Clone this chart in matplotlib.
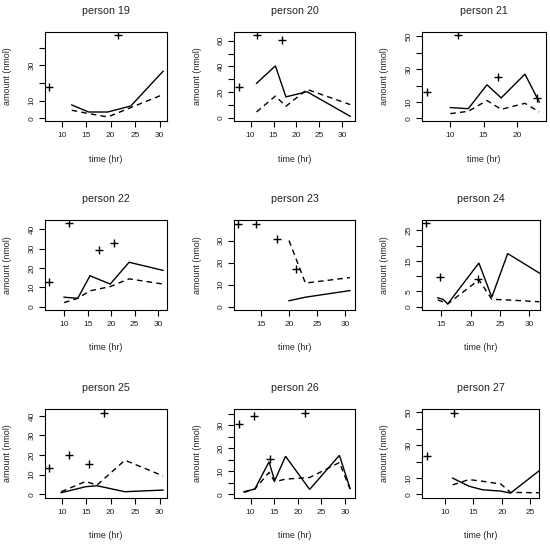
import matplotlib
matplotlib.use("Agg")
import matplotlib.pyplot as plt

plt.rcParams['font.family'] = ['Liberation Sans', 'DejaVu Sans']

persons = ["person 19", "person 20", "person 21", "person 22", "person 23",
           "person 24", "person 25", "person 26", "person 27"]

# observed points (+)
plus_t = [
    [7.5, 21.5],
    [7.4, 11.3, 16.9],
    [6.67, 11.18, 17.2, 22.9],
    [6.88, 11.13, 17.45, 20.5],
    [11.0, 14.2, 17.8, 21.2],
    [12.45, 14.83, 21.2],
    [7.47, 11.4, 15.5, 18.7],
    [7.47, 10.8, 14.2, 21.5],
    [6.85, 11.5],
]
plus_v = [
    [17.9, 47.4],
    [24.3, 64.5, 60.8],
    [16.2, 51.0, 25.2, 12.3],
    [13.0, 43.1, 29.2, 33.0],
    [37.7, 37.7, 30.9, 17.2],
    [27.3, 9.6, 9.0],
    [13.3, 20.1, 15.5, 41.5],
    [30.6, 34.1, 15.5, 35.3],
    [23.4, 49.6],
]
# line series
line_t = [
    [12.05, 15.5, 19.4, 24.1, 30.7],
    [11.3, 15.4, 17.7, 22.3, 31.7],
    [10.1, 12.75, 15.5, 17.6, 21.1, 23.2],
    [10.0, 12.9, 15.5, 19.8, 23.8, 31.0],
    [20.0, 22.9, 30.8],
    [14.4, 15.3, 16.1, 21.4, 23.6, 26.3, 31.7],
    [9.9, 14.9, 17.2, 22.9, 30.7],
    [8.6, 10.9, 13.9, 15.1, 17.4, 22.5, 28.8, 31.05],
    [11.35, 14.2, 16.6, 19.8, 21.5, 26.5],
]
solid_v = [
    [7.6, 3.6, 3.6, 7.0, 26.7],
    [26.9, 40.5, 16.4, 20.4, 1.3],
    [6.6, 5.9, 20.5, 12.5, 27.0, 10.0],
    [4.9, 4.3, 16.0, 11.7, 23.0, 18.8],
    [2.7, 4.3, 7.3],
    [2.9, 2.4, 0.9, 14.3, 3.1, 17.4, 11.0],
    [0.84, 3.9, 4.4, 1.35, 2.2],
    [1.15, 2.3, 14.1, 5.9, 16.5, 2.15, 16.9, 2.6],
    [9.9, 5.0, 2.8, 2.0, 0.8, 14.3],
]
dashed_v = [
    [4.6, 2.7, 0.8, 6.1, 13.5],
    [4.7, 17.0, 9.1, 22.2, 10.4],
    [2.9, 4.3, 10.9, 5.5, 9.2, 3.9],
    [2.1, 4.3, 8.2, 10.4, 14.4, 11.7],
    [30.0, 10.7, 13.2],
    [2.2, 1.6, 0.9, 8.8, 2.4, 2.2, 1.6],
    [1.35, 6.6, 4.7, 17.4, 9.4],
    [0.86, 2.3, 9.5, 5.5, 6.6, 7.3, 13.8, 2.3],
    [5.8, 9.0, 8.0, 6.3, 1.2, 1.0],
]
# tick positions and labels
xticks = [
    [10, 15, 20, 25, 30], [10, 15, 20, 25, 30], [10, 15, 20],
    [10, 15, 20, 25, 30], [15, 20, 25, 30], [15, 20, 25, 30],
    [10, 15, 20, 25, 30], [10, 15, 20, 25, 30], [10, 15, 20, 25],
]
yticks = [
    [0, 10, 20, 30, 40], [0, 10, 20, 30, 40, 50, 60], [0, 10, 20, 30, 40, 50],
    [0, 10, 20, 30, 40], [0, 10, 20, 30], [0, 5, 10, 15, 20, 25],
    [0, 10, 20, 30, 40], [0, 5, 10, 15, 20, 25, 30, 35], [0, 10, 20, 30, 40, 50],
]
ylabels_shown = [
    ["0", "10", "", "30", ""], ["0", "", "20", "", "40", "", "60"],
    ["0", "10", "", "30", "", "50"],
    ["0", "10", "20", "30", "40"], ["0", "10", "20", "30"],
    ["0", "5", "", "15", "", "25"],
    ["0", "10", "20", "30", "40"], ["0", "", "10", "", "20", "", "30", ""],
    ["0", "10", "", "30", "", "50"],
]
xlims = [(6.59, 31.5), (6.39, 32.74), (5.93, 24.2), (5.96, 31.84), (10.24, 31.7),
         (11.72, 31.8), (6.59, 31.5), (6.49, 32.1), (5.97, 26.5)]
ylims = [(-1.5, 48.95), (-2.35, 66.8), (-1.6, 52.7), (-1.74, 44.9), (-1.5, 39.3),
         (-1.1, 28.4), (-1.85, 43.5), (-1.58, 37.0), (-2.2, 52.0)]

# axes boxes in pixels (left, right, top, bottom)
boxes = [(45, 167, 32, 121), (234, 355, 32, 121), (422, 546, 32, 121),
         (45, 167, 220, 310), (234, 355, 220, 310), (422, 540, 220, 310),
         (45, 167, 409, 498), (234, 355, 409, 498), (422, 539, 409, 498)]

W, H = 550, 549
fig = plt.figure(figsize=(W / 100, H / 100), dpi=100)
fig.patch.set_facecolor("white")
tc = "#222222"

for i in range(9):
    l, r, t, b = boxes[i]
    ax = fig.add_axes([l / W, 1 - b / H, (r - l) / W, (b - t) / H])
    wpx, hpx = r - l, b - t
    ax.plot(line_t[i], solid_v[i], color="black", lw=1.0, solid_joinstyle="miter")
    ax.plot(line_t[i], dashed_v[i], color="black", lw=1.0, dashes=(4, 3))
    ax.plot(plus_t[i], plus_v[i], linestyle="none", marker="+", color="black",
            markersize=5.8, mew=1.0)
    ax.set_xlim(*xlims[i])
    ax.set_ylim(*ylims[i])
    ax.set_xticks(xticks[i])
    ax.set_xticklabels([str(v) for v in xticks[i]])
    ax.set_yticks(yticks[i])
    ax.set_yticklabels(ylabels_shown[i], rotation=90, va="center")
    ax.tick_params(direction="out", length=4.3, width=0.8, labelsize=6.0,
                   colors="black", labelcolor=tc)
    ax.tick_params(axis="x", pad=3.5)
    ax.tick_params(axis="y", pad=2.5)
    for s in ax.spines.values():
        s.set_linewidth(0.8)
        s.set_color("black")
    ax.set_xlabel("time (hr)", fontsize=6.4, color=tc, va="center")
    ax.xaxis.set_label_coords(0.5, -38 / hpx)
    ax.set_ylabel("amount (nmol)", fontsize=6.4, color=tc, va="center")
    ax.yaxis.set_label_coords(-37 / wpx, 0.5)
    ax.set_title(persons[i], fontsize=7.7, color=tc, y=1 + 21 / hpx, va="center", pad=0)

fig.savefig("out.png", dpi=100, facecolor="white")
